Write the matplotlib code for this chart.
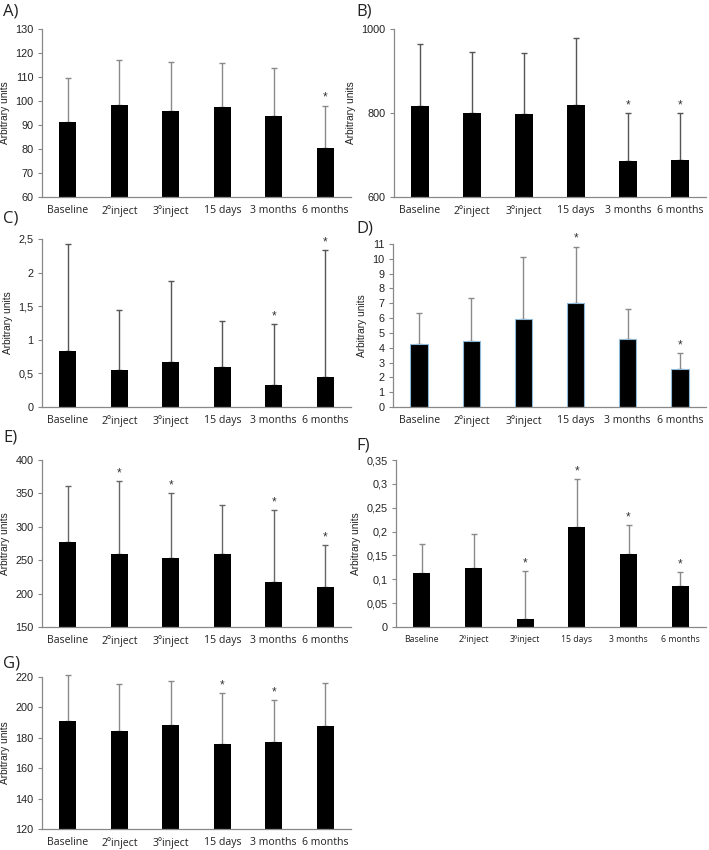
import matplotlib
matplotlib.use("Agg")
import matplotlib.pyplot as plt
from matplotlib.ticker import FuncFormatter

categories = ["Baseline", "2\u00bainject", "3\u00bainject", "15 days", "3 months", "6 months"]

a_vals = [91.1, 98.2, 95.7, 97.5, 93.8, 80.4]
a_err = [18.5, 18.7, 20.6, 18.3, 19.8, 17.7]
a_sig = [5]

b_vals = [817, 800, 797, 819, 686, 688]
b_err = [148, 145, 146, 160, 114, 111]
b_sig = [4, 5]

c_vals = [0.83, 0.55, 0.67, 0.59, 0.33, 0.445]
c_err = [1.59, 0.90, 1.20, 0.69, 0.90, 1.895]
c_sig = [4, 5]

d_vals = [4.26, 4.48, 5.97, 7.05, 4.59, 2.59]
d_err = [2.09, 2.88, 4.16, 3.78, 1.99, 1.08]
d_sig = [3, 5]

e_vals = [277.5, 260, 254, 258.6, 217.2, 209.3]
e_err = [83.2, 108, 97, 74.2, 108.1, 63.7]
e_sig = [1, 2, 4, 5]

f_vals = [0.113, 0.124, 0.017, 0.210, 0.154, 0.085]
f_err = [0.060, 0.070, 0.100, 0.100, 0.060, 0.031]
f_sig = [2, 3, 4, 5]

g_vals = [191.3, 184.8, 188.5, 176.0, 177.3, 188.0]
g_err = [30.2, 30.8, 29.1, 33.5, 27.8, 27.8]
g_sig = [3, 4]

W, H = 709, 850
fig = plt.figure(figsize=(W / 100, H / 100), dpi=100)

def comma_fmt(v, pos):
    s = ("%g" % v)
    return s.replace(".", ",")

def panel(label, rect, vals, err, sig, ylim, yticks, label_xy, errcolor="#8a8a8a",
          edge="black", xfs=7.6, xfont="Open Sans"):
    l, r, t, b = rect
    ax = fig.add_axes([l / W, 1 - b / H, (r - l) / W, (b - t) / H])
    x = list(range(len(categories)))
    ax.bar(x, vals, width=0.33, color="black", edgecolor=edge,
           linewidth=0.8 if edge != "black" else 0, zorder=2)
    eb = ax.errorbar(x, vals, yerr=[[0] * len(err), err], fmt="none", ecolor=errcolor,
                     elinewidth=1.0, capsize=2.2, capthick=1.0, zorder=1)
    for artist in eb.lines[1] + eb.lines[2]:
        artist.set_clip_on(False)
    span = ylim[1] - ylim[0]
    for i in sig:
        ax.text(i, vals[i] + err[i] + span * 0.01, "*", ha="center", va="bottom",
                fontsize=8.5, color="#333333", family="Liberation Sans")
    ax.set_xlim(-0.5, len(categories) - 0.5)
    ax.set_ylim(*ylim)
    ax.set_yticks(yticks)
    ax.yaxis.set_major_formatter(FuncFormatter(comma_fmt))
    ax.set_xticks(x)
    ax.set_xticklabels(categories, fontsize=xfs, family=xfont, color="#222222")
    ax.tick_params(axis="x", length=0, pad=6)
    ax.tick_params(axis="y", length=3, width=0.8, color="#888888", labelsize=7.8,
                   labelcolor="#222222", pad=3)
    for lab in ax.get_yticklabels():
        lab.set_family("Liberation Sans")
    ax.spines["top"].set_visible(False)
    ax.spines["right"].set_visible(False)
    ax.spines["left"].set_color("#888888")
    ax.spines["bottom"].set_color("#888888")
    ax.spines["left"].set_linewidth(0.9)
    ax.spines["bottom"].set_linewidth(0.9)
    ax.set_ylabel("Arbitrary units", fontsize=7.3, family="Liberation Sans", color="#222222",
                  labelpad=4)
    fig.text(label_xy[0] / W, 1 - label_xy[1] / H, label, fontsize=12, family="Open Sans",
             ha="left", va="center", color="#222222")
    return ax

panel("A)", (42, 351, 29, 197), a_vals, a_err, a_sig, (60, 130), range(60, 131, 10), (3, 12))
panel("B)", (394, 706, 29, 197), b_vals, b_err, b_sig, (600, 1000), [600, 800, 1000], (356, 12),
      errcolor="#555555")
panel("C)", (42, 351, 239, 407), c_vals, c_err, c_sig, (0, 2.5), [0, 0.5, 1, 1.5, 2, 2.5], (3, 219),
      errcolor="#555555")
panel("D)", (393, 706, 244, 407), d_vals, d_err, d_sig, (0, 11), range(0, 12), (356, 228),
      edge="#8fb8d8")
panel("E)", (42, 351, 460, 627), e_vals, e_err, e_sig, (150, 400), range(150, 401, 50), (3, 438),
      errcolor="#666666")
panel("F)", (396, 706, 460, 627), f_vals, f_err, f_sig, (0, 0.35),
      [0, 0.05, 0.1, 0.15, 0.2, 0.25, 0.3, 0.35], (356, 445), xfs=6.3)
panel("G)", (42, 351, 677, 829), g_vals, g_err, g_sig, (120, 220), range(120, 221, 20), (3, 663))

fig.savefig("out.png", dpi=100, facecolor="white")
